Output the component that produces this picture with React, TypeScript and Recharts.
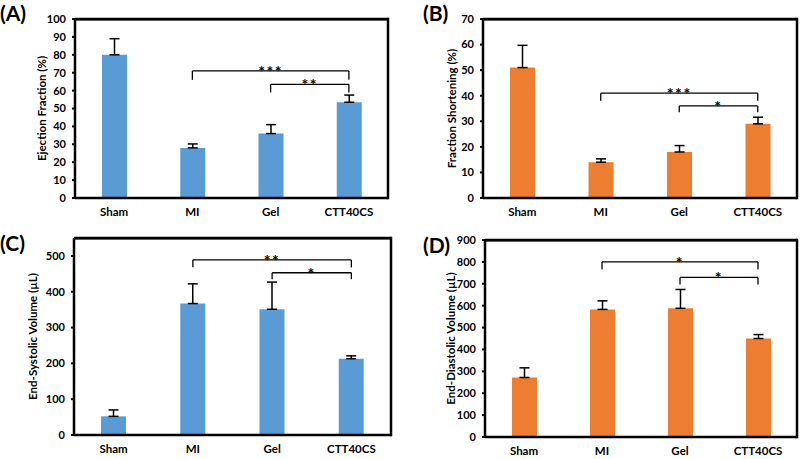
import React from 'react';
import { BarChart, Bar, XAxis, YAxis, ErrorBar, ReferenceLine } from 'recharts';

const groups = ['Sham', 'MI', 'Gel', 'CTT40CS'];

// (A) ejection fraction
const efMean = [80, 28, 36, 53.5];
const efErr = [9, 2.2, 5, 4];
const efTicks = [0, 10, 20, 30, 40, 50, 60, 70, 80, 90, 100];

// (B) fraction shortening
const fsMean = [51, 14, 18, 29];
const fsErr = [8.7, 1.3, 2.5, 2.6];
const fsTicks = [0, 10, 20, 30, 40, 50, 60, 70];

// (C) end-systolic volume
const esvMean = [52, 367, 351, 213];
const esvErr = [18, 55, 76, 8];
const esvTicks = [0, 100, 200, 300, 400, 500];

// (D) end-diastolic volume
const edvMean = [272, 583, 588, 450];
const edvErr = [44, 39, 86, 18];
const edvTicks = [0, 100, 200, 300, 400, 500, 600, 700, 800, 900];

// significance brackets: from, to, bar height, leg end, stars
const efSig = [
  { from: 'MI', to: 'CTT40CS', top: 71, leg: 66, stars: '***' },
  { from: 'Gel', to: 'CTT40CS', top: 63.5, leg: 59, stars: '**' },
];
const fsSig = [
  { from: 'MI', to: 'CTT40CS', top: 41, leg: 38, stars: '***' },
  { from: 'Gel', to: 'CTT40CS', top: 36, leg: 33.5, stars: '*' },
];
const esvSig = [
  { from: 'MI', to: 'CTT40CS', top: 489, leg: 468, stars: '**' },
  { from: 'Gel', to: 'CTT40CS', top: 453, leg: 435, stars: '*' },
];
const edvSig = [
  { from: 'MI', to: 'CTT40CS', top: 800, leg: 766, stars: '*' },
  { from: 'Gel', to: 'CTT40CS', top: 729, leg: 697, stars: '*' },
];

const BLUE = '#5B9BD5';
const ORANGE = '#ED7D31';
const FONT = 'Lato, "Open Sans", sans-serif';

const axisStroke = { stroke: '#000', strokeWidth: 2.5 };
const FRAME = 2.5;

function Panel({ left, top, width, height, margin, yWidth, mean, err, color, ticks, domain, yLabel, labelDx, sig, xHeight }) {
  const rows = groups.map((g, i) => ({ group: g, value: mean[i], err: [0, err[i]] }));

  const brackets = [];
  sig.forEach((b, i) => {
    brackets.push(
      <ReferenceLine
        key={'h' + i}
        segment={[{ x: b.from, y: b.top }, { x: b.to, y: b.top }]}
        stroke="#000"
        strokeWidth={1.3}
        ifOverflow="visible"
        label={{ value: b.stars, position: 'top', offset: -6, fill: '#000', fontSize: 16, fontWeight: 'bold', fontFamily: FONT, letterSpacing: 1.5 }}
      />
    );
    brackets.push(
      <ReferenceLine key={'l' + i} segment={[{ x: b.from, y: b.top }, { x: b.from, y: b.leg }]} stroke="#000" strokeWidth={1.3} ifOverflow="visible" />
    );
    brackets.push(
      <ReferenceLine key={'r' + i} segment={[{ x: b.to, y: b.top }, { x: b.to, y: b.leg }]} stroke="#000" strokeWidth={1.3} ifOverflow="visible" />
    );
  });

  // plot-area box outline (same geometry as the chart's margins)
  const px = margin.left + yWidth;
  const py = margin.top;
  const pw = width - px - margin.right;
  const ph = height - margin.top - margin.bottom - xHeight;

  return (
    <div style={{ position: 'absolute', left, top, width, height }}>
      <BarChart width={width} height={height} data={rows} margin={margin} barSize={25}>
        <XAxis
          dataKey="group"
          axisLine={axisStroke}
          tickLine={false}
          tickSize={0}
          height={xHeight}
          tickMargin={10}
          tick={{ fill: '#000', fontSize: 11.5, fontWeight: 'bold', fontFamily: FONT }}
        />
        <YAxis
          width={yWidth}
          domain={domain}
          ticks={ticks}
          interval={0}
          allowDataOverflow
          axisLine={axisStroke}
          tickLine={{ stroke: '#000', strokeWidth: 2 }}
          tickSize={3}
          tickMargin={6}
          tick={{ fill: '#000', fontSize: 11, fontWeight: 'bold', fontFamily: FONT }}
          label={{ value: yLabel, angle: -90, position: 'center', dx: labelDx, fill: '#000', fontSize: 11.5, fontWeight: 'bold', fontFamily: FONT }}
        />
        <Bar dataKey="value" fill={color} isAnimationActive={false}>
          <ErrorBar dataKey="err" direction="y" width={5} stroke="#000" strokeWidth={1.5} />
        </Bar>
        {brackets}
        <ReferenceLine y={domain[1] * 0.999} stroke="#000" strokeWidth={FRAME} ifOverflow="visible" />
      </BarChart>
      <svg
        width={width}
        height={height}
        style={{ position: 'absolute', left: 0, top: 0, zIndex: 5, pointerEvents: 'none', overflow: 'visible' }}
      >
        <line x1={px} y1={py} x2={px + pw} y2={py} stroke="#000" strokeWidth={FRAME} />
        <line x1={px + pw} y1={py - FRAME / 2} x2={px + pw} y2={py + ph + FRAME / 2} stroke="#000" strokeWidth={FRAME} />
      </svg>
    </div>
  );
}

const tag = { position: 'absolute', fontFamily: FONT, fontWeight: 'bold', fontSize: 21, lineHeight: '22px', color: '#000' } as React.CSSProperties;

export default function App() {
  return (
    <div style={{ position: 'absolute', left: 0, top: 0, width: 800, height: 459, background: '#fff', overflow: 'hidden' }}>
      <Panel left={0} top={0} width={400} height={230} margin={{ top: 19, right: 12, bottom: 2, left: 0 }} yWidth={75} xHeight={30}
        mean={efMean} err={efErr} color={BLUE} ticks={efTicks} domain={[0, 100]} yLabel="Ejection Fraction (%)" labelDx={4} sig={efSig} />
      <Panel left={400} top={0} width={400} height={230} margin={{ top: 19, right: 3, bottom: 2, left: 0 }} yWidth={83} xHeight={30}
        mean={fsMean} err={fsErr} color={ORANGE} ticks={fsTicks} domain={[0, 70]} yLabel="Fraction Shortening (%)" labelDx={10} sig={fsSig} />
      <Panel left={0} top={230} width={400} height={229} margin={{ top: 8, right: 9, bottom: 2, left: 0 }} yWidth={74} xHeight={22}
        mean={esvMean} err={esvErr} color={BLUE} ticks={esvTicks} domain={[0, 550]} yLabel="End-Systolic Volume (µL)" labelDx={-4} sig={esvSig} />
      <Panel left={400} top={230} width={400} height={229} margin={{ top: 10, right: 3, bottom: 2, left: 0 }} yWidth={85} xHeight={20}
        mean={edvMean} err={edvErr} color={ORANGE} ticks={edvTicks} domain={[0, 900]} yLabel="End-Diastolic Volume (µL)" labelDx={8} sig={edvSig} />
      <div style={{ ...tag, left: 0, top: 2 }}>(A)</div>
      <div style={{ ...tag, left: 423, top: 2 }}>(B)</div>
      <div style={{ ...tag, left: 0, top: 232 }}>(C)</div>
      <div style={{ ...tag, left: 423, top: 234 }}>(D)</div>
    </div>
  );
}
